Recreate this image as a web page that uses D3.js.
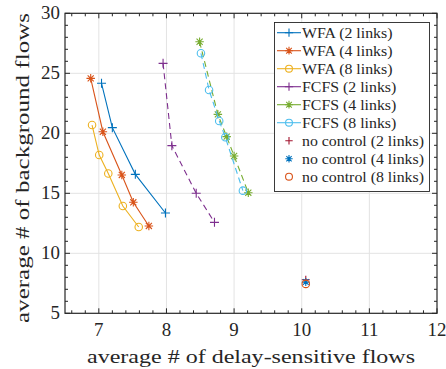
<!DOCTYPE html>
<html><head><meta charset="utf-8">
<script src="https://cdn.jsdelivr.net/npm/d3@7"></script>
<style>body{margin:0;background:#fff}svg{display:block}text{font-family:"Liberation Serif",serif;fill:#262626}</style>
</head><body><svg id="c" width="446" height="369"></svg>
<script>
const xTicks = [7, 8, 9, 10, 11, 12];
const yTicks = [5, 10, 15, 20, 25, 30];
const wfa2X = [7.04, 7.20, 7.54, 7.985];
const wfa2Y = [24.17, 20.47, 16.58, 13.36];
const wfa4X = [6.88, 7.06, 7.34, 7.51, 7.74];
const wfa4Y = [24.58, 20.13, 16.53, 14.25, 12.28];
const wfa8X = [6.90, 7.006, 7.14, 7.355, 7.59];
const wfa8Y = [20.69, 18.19, 16.65, 13.94, 12.19];
const fcfs2X = [7.95, 8.08, 8.44, 8.71];
const fcfs2Y = [25.83, 18.97, 15.0, 12.58];
const fcfs4X = [8.49, 8.76, 8.89, 9.0, 9.21];
const fcfs4Y = [27.63, 21.58, 19.72, 18.11, 15.05];
const fcfs8X = [8.51, 8.63, 8.78, 8.87, 9.13];
const fcfs8Y = [26.67, 23.61, 21.03, 19.67, 15.22];
const nc2X = [10.06], nc2Y = [7.8];
const nc4X = [10.06], nc4Y = [7.6];
const nc8X = [10.06], nc8Y = [7.45];

const plusT = {draw(c, s){const r=Math.sqrt(s)/2;c.moveTo(-r,0);c.lineTo(r,0);c.moveTo(0,-r);c.lineTo(0,r);}};
const starT = {draw(c, s){const r=Math.sqrt(s)/2;const d=r*0.72;c.moveTo(-r,0);c.lineTo(r,0);c.moveTo(0,-r);c.lineTo(0,r);c.moveTo(-d,-d);c.lineTo(d,d);c.moveTo(-d,d);c.lineTo(d,-d);}};
const circT = {draw(c, s){const r=Math.sqrt(s)/2;c.moveTo(r,0);c.arc(0,0,r,0,2*Math.PI);}};

const series = [
 {name:"WFA (2 links)", xs:wfa2X, ys:wfa2Y, color:"#0072BD", m:plusT, ms:81, dash:null, line:true},
 {name:"WFA (4 links)", xs:wfa4X, ys:wfa4Y, color:"#D95319", m:starT, ms:72, dash:null, line:true},
 {name:"WFA (8 links)", xs:wfa8X, ys:wfa8Y, color:"#EDB120", m:circT, ms:56, dash:null, line:true},
 {name:"FCFS (2 links)", xs:fcfs2X, ys:fcfs2Y, color:"#7E2F8E", m:plusT, ms:81, dash:"6,4", line:true},
 {name:"FCFS (4 links)", xs:fcfs4X, ys:fcfs4Y, color:"#77AC30", m:starT, ms:72, dash:"6,4", line:true},
 {name:"FCFS (8 links)", xs:fcfs8X, ys:fcfs8Y, color:"#4DBEEE", m:circT, ms:56, dash:"6,4", line:true},
 {name:"no control (2 links)", xs:nc2X, ys:nc2Y, color:"#A2142F", m:plusT, ms:64, dash:null, line:false},
 {name:"no control (4 links)", xs:nc4X, ys:nc4Y, color:"#0072BD", m:starT, ms:64, dash:null, line:false},
 {name:"no control (8 links)", xs:nc8X, ys:nc8Y, color:"#D95319", m:circT, ms:56, dash:null, line:false}
];

const svg = d3.select("#c");
const L=65, R=437, T=13.3, B=313.3;
const x = d3.scaleLinear().domain([6.5,12]).range([L,R]);
const y = d3.scaleLinear().domain([5,30]).range([B,T]);

// stretch text horizontally so that it spans `target` px (mimics the wider LaTeX font)
function widen(sel, target){
  sel.attr("textLength", target).attr("lengthAdjust","spacingAndGlyphs");
  return sel;
}
function widenBy(sel, f){
  sel.each(function(){
    const w = this.getComputedTextLength();
    d3.select(this).attr("textLength", w*f).attr("lengthAdjust","spacingAndGlyphs");
  });
}

// grid
const g = svg.append("g");
g.selectAll(".gx").data(xTicks.filter(v=>v<12)).enter().append("line")
 .attr("x1",d=>x(d)).attr("x2",d=>x(d)).attr("y1",T).attr("y2",B)
 .attr("stroke","#e3e3e3").attr("stroke-width",1);
g.selectAll(".gy").data(yTicks.filter(v=>v>5&&v<30)).enter().append("line")
 .attr("y1",d=>y(d)).attr("y2",d=>y(d)).attr("x1",L).attr("x2",R)
 .attr("stroke","#e3e3e3").attr("stroke-width",1);

// minor ticks
const xMinor = d3.range(6.6,12.0001,0.2).map(v=>+v.toFixed(1));
const yMinor = d3.range(5,30.0001,1);
const tk = svg.append("g").attr("stroke","#262626").attr("stroke-width",1);
xMinor.forEach(v=>{
 const maj = xTicks.includes(v); const len = maj?5:3;
 tk.append("line").attr("x1",x(v)).attr("x2",x(v)).attr("y1",B).attr("y2",B-len);
 tk.append("line").attr("x1",x(v)).attr("x2",x(v)).attr("y1",T).attr("y2",T+len);
});
yMinor.forEach(v=>{
 const maj = yTicks.includes(v); const len = maj?5:3;
 tk.append("line").attr("y1",y(v)).attr("y2",y(v)).attr("x1",L).attr("x2",L+len);
 tk.append("line").attr("y1",y(v)).attr("y2",y(v)).attr("x1",R).attr("x2",R-len);
});

// data
series.forEach(s=>{
 const pts = s.xs.map((v,i)=>[v,s.ys[i]]);
 if(s.line){
  svg.append("path").datum(pts)
   .attr("d",d3.line().x(d=>x(d[0])).y(d=>y(d[1])))
   .attr("fill","none").attr("stroke",s.color).attr("stroke-width",1.1)
   .attr("stroke-dasharray",s.dash);
 }
 svg.selectAll(null).data(pts).enter().append("path")
  .attr("transform",d=>`translate(${x(d[0])},${y(d[1])})`)
  .attr("d",d3.symbol().type(s.m).size(s.ms))
  .attr("fill","none").attr("stroke",s.color).attr("stroke-width",1.1);
});

// axes box
svg.append("rect").attr("x",L).attr("y",T).attr("width",R-L).attr("height",B-T)
 .attr("fill","none").attr("stroke","#262626").attr("stroke-width",1.2);

// tick labels
const xl = svg.selectAll(".xl").data(xTicks).enter().append("text")
 .attr("x",d=>x(d)).attr("y",336).attr("text-anchor","middle")
 .attr("font-size",18).text(d=>d);
const yl = svg.selectAll(".yl").data(yTicks).enter().append("text")
 .attr("x",60).attr("y",d=>y(d)+6).attr("text-anchor","end")
 .attr("font-size",18).text(d=>d);
widenBy(xl, 1.05); widenBy(yl, 1.05);

widen(svg.append("text").attr("x",251).attr("y",363).attr("text-anchor","middle")
 .attr("font-size",19.5).text("average # of delay-sensitive flows"), 328);
widen(svg.append("text").attr("transform",`translate(29,168) rotate(-90)`)
 .attr("text-anchor","middle").attr("font-size",19.5).text("average # of background flows"), 310);

// legend
const lg = svg.append("g");
lg.append("rect").attr("x",274.5).attr("y",22.5).attr("width",155).attr("height",169)
 .attr("fill","#fff").attr("stroke","#262626").attr("stroke-width",0.9);
series.forEach((s,i)=>{
 const cy = 32.7 + i*18;
 if(s.line){
  lg.append("line").attr("x1",277).attr("x2",301).attr("y1",cy).attr("y2",cy)
   .attr("stroke",s.color).attr("stroke-width",1.1);
 }
 lg.append("path").attr("transform",`translate(289,${cy})`)
  .attr("d",d3.symbol().type(s.m).size(s.ms*0.85))
  .attr("fill","none").attr("stroke",s.color).attr("stroke-width",1.1);
 lg.append("text").attr("class","lt").attr("x",302).attr("y",cy+5).attr("font-size",15).text(s.name);
});
const lts = lg.selectAll(".lt");
const wLast = lts.nodes()[8].getComputedTextLength();
widenBy(lts, 122/wLast);
</script></body></html>
